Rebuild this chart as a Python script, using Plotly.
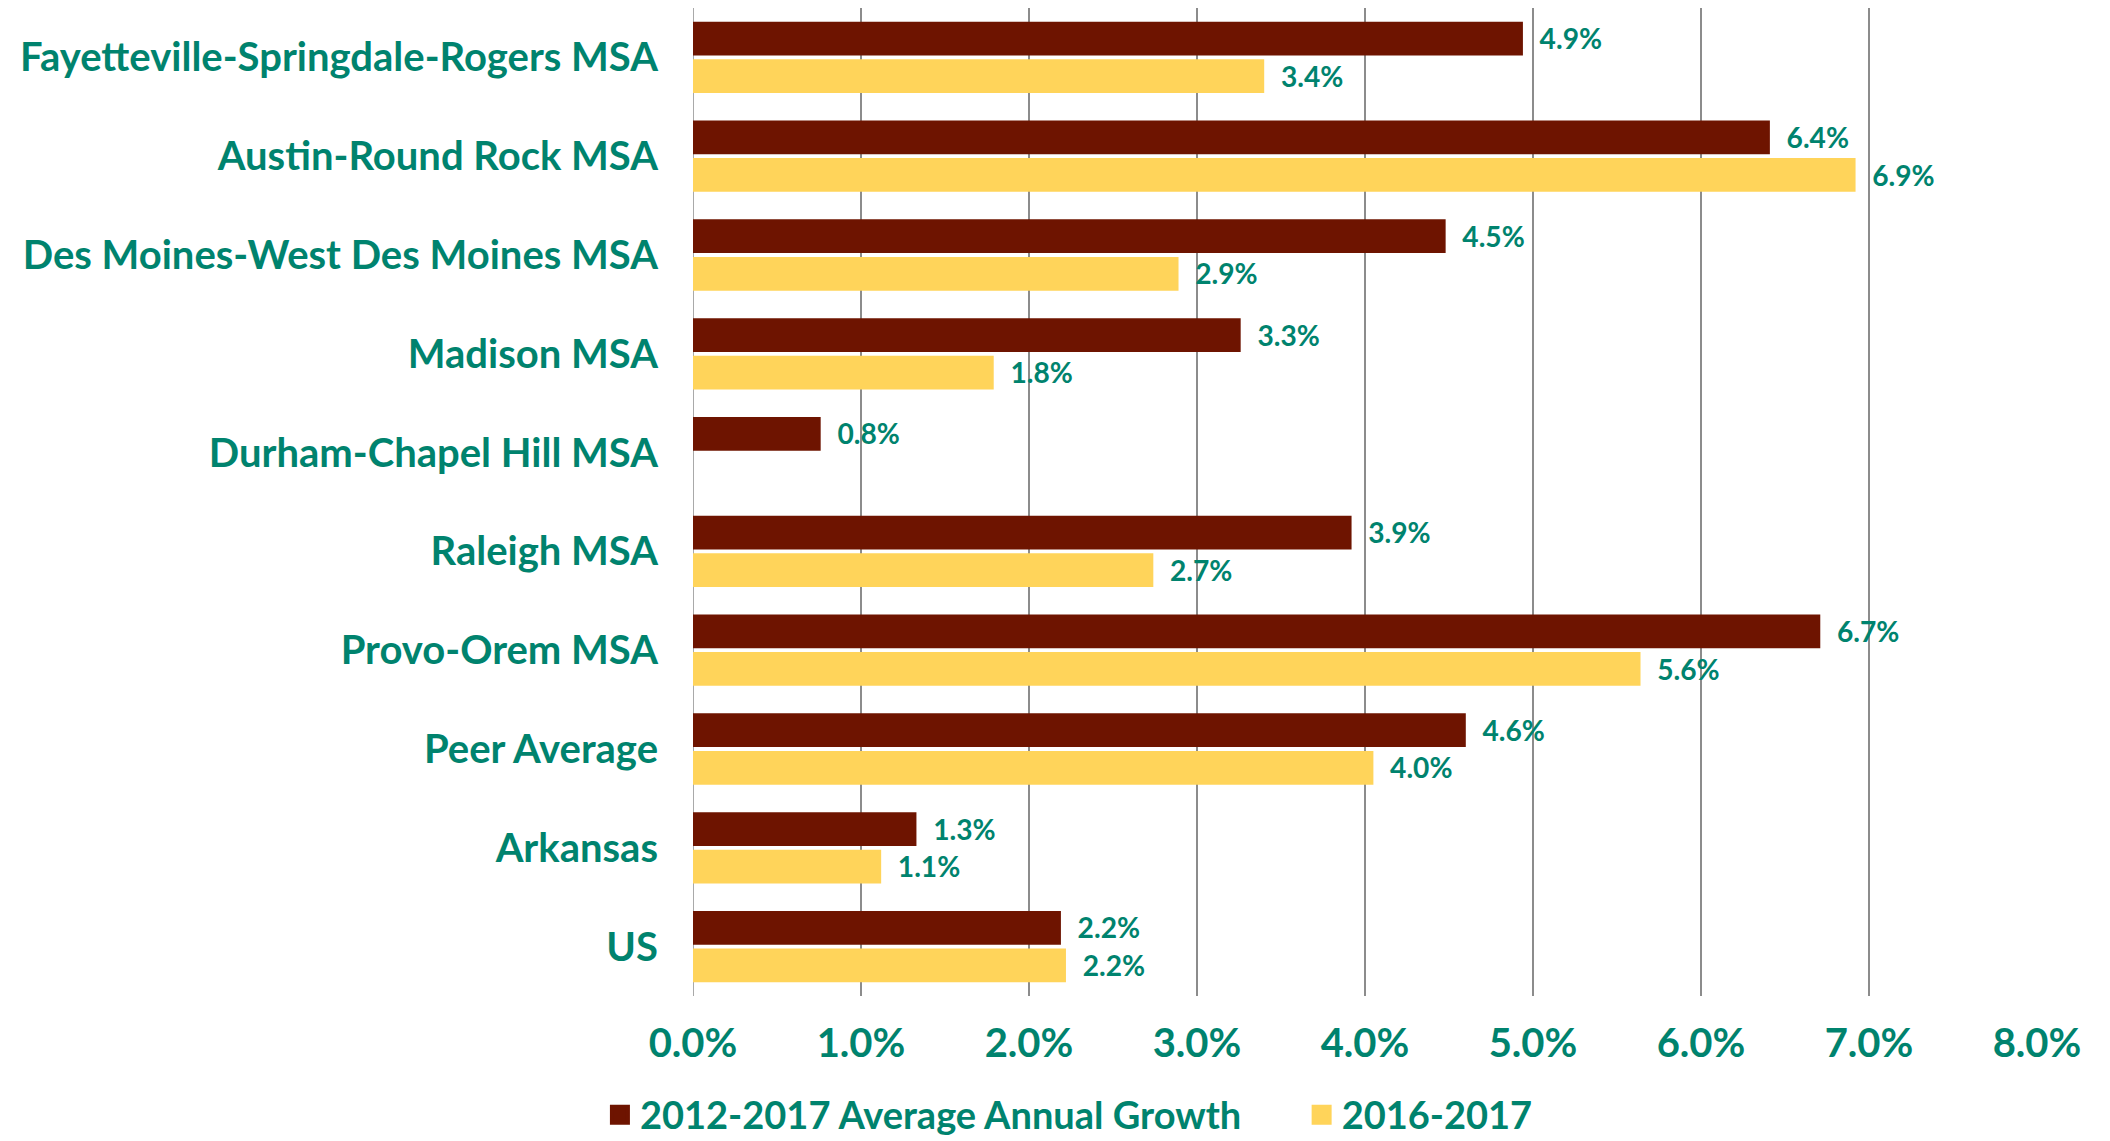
import plotly.graph_objects as go

categories = [
    "Fayetteville-Springdale-Rogers MSA",
    "Austin-Round Rock MSA",
    "Des Moines-West Des Moines MSA",
    "Madison MSA",
    "Durham-Chapel Hill MSA",
    "Raleigh MSA",
    "Provo-Orem MSA",
    "Peer Average",
    "Arkansas",
    "US",
]
growth_2012_2017 = [4.94, 6.41, 4.48, 3.26, 0.76, 3.92, 6.71, 4.60, 1.33, 2.19]
growth_2016_2017 = [3.40, 6.92, 2.89, 1.79, None, 2.74, 5.64, 4.05, 1.12, 2.22]
series_names = ["2012-2017 Average Annual Growth", "2016-2017"]
x_ticks = [0, 1, 2, 3, 4, 5, 6, 7, 8]
x_tick_labels = ["0.0%", "1.0%", "2.0%", "3.0%", "4.0%", "5.0%", "6.0%", "7.0%", "8.0%"]

DARK = "#6E1400"
YELLOW = "#FFD45A"
TEAL = "#00836E"
GRID = "#8C8C8C"
FONT = "Lato, sans-serif"
NB = "\u00a0"


def labels(vals):
    return [NB * 2 + "%.1f%%" % v if v is not None else "" for v in vals]


fig = go.Figure()
for name, vals, col in [
    (series_names[0], growth_2012_2017, DARK),
    (series_names[1], growth_2016_2017, YELLOW),
]:
    fig.add_trace(go.Bar(
        y=categories, x=vals, name=name, orientation="h",
        marker=dict(color=col, line=dict(width=0)),
        text=labels(vals), textposition="outside", cliponaxis=False,
        textfont=dict(family=FONT, size=40, color=TEAL, weight=700),
        showlegend=False,
    ))
# legend entries (square swatches)
legend_labels = [series_names[0] + NB * 6, series_names[1]]
for name, col in [(legend_labels[0], DARK), (legend_labels[1], YELLOW)]:
    fig.add_trace(go.Scatter(
        x=[None], y=[None], mode="markers", name=name,
        marker=dict(symbol="square", size=16, color=col,
                    line=dict(color=col, width=4)),
        showlegend=True,
    ))

fig.update_layout(
    template="none",
    width=2102, height=1133,
    margin=dict(l=685, r=73, t=0, b=145, autoexpand=False),
    paper_bgcolor="white", plot_bgcolor="white",
    barmode="group", bargap=0.24, bargroupgap=0.1,
    font=dict(family=FONT, color=TEAL, weight=700),
    showlegend=True,
    legend=dict(
        orientation="h", xref="container", x=0.2816, xanchor="left",
        yref="container", y=0.023, yanchor="middle",
        font=dict(family=FONT, size=38, color=TEAL, weight=700),
        bgcolor="rgba(0,0,0,0)", itemsizing="trace",
    ),
)
fig.update_xaxes(
    range=[0, 8], tickvals=x_ticks, ticktext=x_tick_labels,
    showgrid=True, gridcolor=GRID, gridwidth=1.5,
    zeroline=False, showline=False, ticks="",
    tickfont=dict(family=FONT, size=40, color=TEAL, weight=700),
    ticklabelstandoff=20, automargin=False,
)
fig.update_yaxes(
    autorange="reversed", showgrid=False, zeroline=False, showline=False,
    ticks="", automargin=False,
    tickfont=dict(family=FONT, size=40, color=TEAL, weight=700),
    ticklabelstandoff=34,
)
fig.add_vline(x=0, line=dict(color=GRID, width=1.5), layer="below")

fig.write_html("out.html")
